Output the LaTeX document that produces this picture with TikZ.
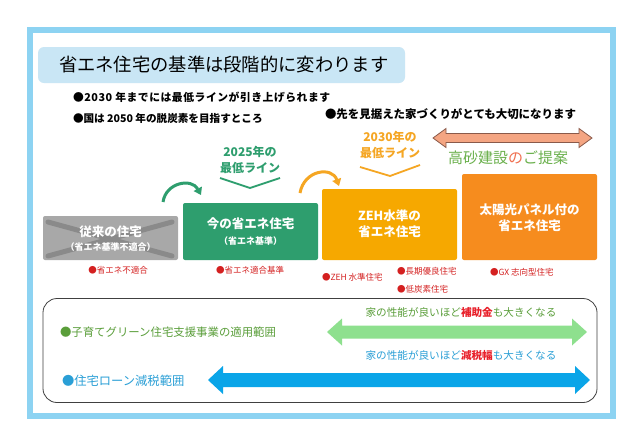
\documentclass[tikz,border=0pt]{standalone}
\usepackage{fontspec}
\setmainfont{Noto Sans CJK JP}
\usetikzlibrary{arrows.meta}
\definecolor{frameblue}{HTML}{8DD3F2}
\definecolor{titlefill}{HTML}{C9E6F5}
\definecolor{boxgray}{HTML}{A8A8A8}
\definecolor{xgray}{HTML}{8A8A8A}
\definecolor{boxgreen}{HTML}{2E9E6E}
\definecolor{boxorange}{HTML}{F6A800}
\definecolor{boxdark}{HTML}{F68C1E}
\definecolor{txtorange}{HTML}{F5A623}
\definecolor{salmon}{HTML}{F4A582}
\definecolor{salmonline}{HTML}{8A5A4A}
\definecolor{propgreen}{HTML}{6AB04C}
\definecolor{propno}{HTML}{F07050}
\definecolor{lgreen}{HTML}{8EE08E}
\definecolor{arrblue}{HTML}{0AA5E8}
\definecolor{txtgreen}{HTML}{5A9E3A}
\definecolor{txtblue}{HTML}{2A9FD6}
\definecolor{txtred}{HTML}{E8202A}
\definecolor{lblred}{HTML}{D42020}
\newcommand{\dblarr}[7]{%
  \path[#1] (#2,#4) -- (#2+#7,#4-#6) -- (#2+#7,#4-#5) -- (#3-#7,#4-#5) -- (#3-#7,#4-#6)
   -- (#3,#4) -- (#3-#7,#4+#6) -- (#3-#7,#4+#5) -- (#2+#7,#4+#5) -- (#2+#7,#4+#6) -- cycle;}
\begin{document}
\begin{tikzpicture}[x=1pt,y=-1pt,
  txt/.style={inner sep=0pt, outer sep=0pt},
  bul/.style={txt, anchor=west, font=\fontsize{10.6}{12}\selectfont\bfseries},
  stagebox/.style={rounded corners=2pt, inner sep=0pt, minimum width=135pt},
  boxmain/.style={txt, text=white, font=\fontsize{12.5}{14}\selectfont\bfseries},
  boxsub/.style={txt, text=white, font=\fontsize{9}{11}\selectfont\bfseries},
  redlbl/.style={txt, text=lblred, font=\fontsize{8.5}{10}\selectfont},
  linetxt/.style={txt, align=center, font=\fontsize{12}{16}\selectfont\bfseries},
  bottxt/.style={txt, font=\fontsize{10.6}{12}\selectfont},
]
\useasboundingbox (0,0) rectangle (640,440);
\fill[white] (0,0) rectangle (640,440);
% frame
\draw[frameblue, line width=6pt] (30,30) rectangle (613,416);
% title
\node[fill=titlefill, rounded corners=6pt, minimum width=367pt, minimum height=36pt, inner sep=0pt] (titlebox) at (221.5,65) {};
\node[txt, anchor=west, font=\fontsize{18.3}{20}\selectfont] (title) at (59,65) {省エネ住宅の基準は段階的に変わります};
% bullets
\node[bul, font=\fontsize{10.8}{12}\selectfont\bfseries\addfontfeature{LetterSpace=5}] (b1) at (73,97) {●2030 年までには最低ラインが引き上げられます};
\node[bul] (b2) at (73,118) {●国は 2050 年の脱炭素を目指すところ};
\node[bul, font=\fontsize{11.45}{12}\selectfont\bfseries] (b3) at (325,114) {●先を見据えた家づくりがとても大切になります};
% proposal arrow
\dblarr{fill=salmon, draw=salmonline, line width=0.8pt}{433}{592}{138}{4.5}{9.5}{13}
\node[txt, font=\fontsize{15}{17}\selectfont] (prop) at (508,158) {\textcolor{propgreen}{高砂建設}\textcolor{propno}{の}\textcolor{propgreen}{ご提案}};
% stage boxes
\node[stagebox, fill=boxgray, minimum height=44pt] (s1) at (110.5,238) {};
\draw[xgray, line width=5pt, line cap=round] (48,222) -- (172,256);
\draw[xgray, line width=5pt, line cap=round] (48,256) -- (172,222);
\node[boxmain] (s1a) at (110.5,232) {従来の住宅};
\node[boxsub] (s1b) at (110.5,247) {（省エネ基準不適合）};
\node[stagebox, fill=boxgreen, minimum height=57pt] (s2) at (250.5,231.5) {};
\node[boxmain] (s2a) at (250.5,224) {今の省エネ住宅};
\node[boxsub] (s2b) at (250.5,241) {（省エネ基準）};
\node[stagebox, fill=boxorange, minimum height=71pt] (s3) at (389.5,224.5) {};
\node[boxmain] (s3a) at (389.5,216) {ZEH水準の};
\node[boxmain] (s3b) at (389.5,232) {省エネ住宅};
\node[stagebox, fill=boxdark, minimum height=86pt] (s4) at (529.5,217) {};
\node[boxmain] (s4a) at (529.5,210) {太陽光パネル付の};
\node[boxmain] (s4b) at (529.5,226) {省エネ住宅};
% minimum lines
\node[linetxt, text=boxgreen] (l25) at (250,160) {2025年の\\最低ライン};
\draw[boxgreen, line width=1.8pt] (220,178) -- (250,188) -- (280,178);
\node[linetxt, text=txtorange] (l30) at (390,145) {2030年の\\最低ライン};
\draw[txtorange, line width=1.8pt] (360,167) -- (390,176) -- (420,165);
% curved arrows
\coordinate (g1) at (163,202);
\coordinate (g2) at (201,195);
\draw[boxgreen, line width=3pt, -{Triangle[length=7pt,width=9pt]}] (g1) .. controls (166,182) and (192,178) .. (g2);
\coordinate (o1) at (300,193);
\coordinate (o2) at (339,186);
\draw[txtorange, line width=3pt, -{Triangle[length=7pt,width=9pt]}] (o1) .. controls (304,170) and (332,166) .. (o2);
% red labels
\node[redlbl] (r1) at (118,270) {●省エネ不適合};
\node[redlbl] (r2) at (250,270) {●省エネ適合基準};
\node[redlbl, anchor=west] (r3) at (322,277) {●ZEH 水準住宅};
\node[redlbl, anchor=west] (r4) at (397,271) {●長期優良住宅};
\node[redlbl, anchor=west] (r5) at (397,289) {●低炭素住宅};
\node[redlbl, anchor=west] (r6) at (490,272) {●GX 志向型住宅};
% bottom box
\node[draw=black!75, line width=0.8pt, rounded corners=14pt, minimum width=554pt, minimum height=104pt, inner sep=0pt] (bot) at (320,350.5) {};
\node[bottxt, anchor=west, text=txtgreen, font=\fontsize{11.4}{12}\selectfont] (kosodate) at (60,332) {●子育てグリーン住宅支援事業の適用範囲};
\node[bottxt, text=txtblue!0!txtgreen] (hojo) at (461,312) {家の性能が良いほど\textcolor{txtred}{\bfseries 補助金}も大きくなる};
\dblarr{fill=lgreen}{327}{587}{332}{6.5}{13.5}{15}
\node[bottxt, text=txtblue] (genzei) at (461,355) {家の性能が良いほど\textcolor{txtred}{\bfseries 減税幅}も大きくなる};
\dblarr{fill=arrblue}{208}{590}{380}{7}{14}{15}
\node[bottxt, anchor=west, text=txtblue, font=\fontsize{12.3}{14}\selectfont] (loan) at (62,381) {●住宅ローン減税範囲};
\end{tikzpicture}
\end{document}
